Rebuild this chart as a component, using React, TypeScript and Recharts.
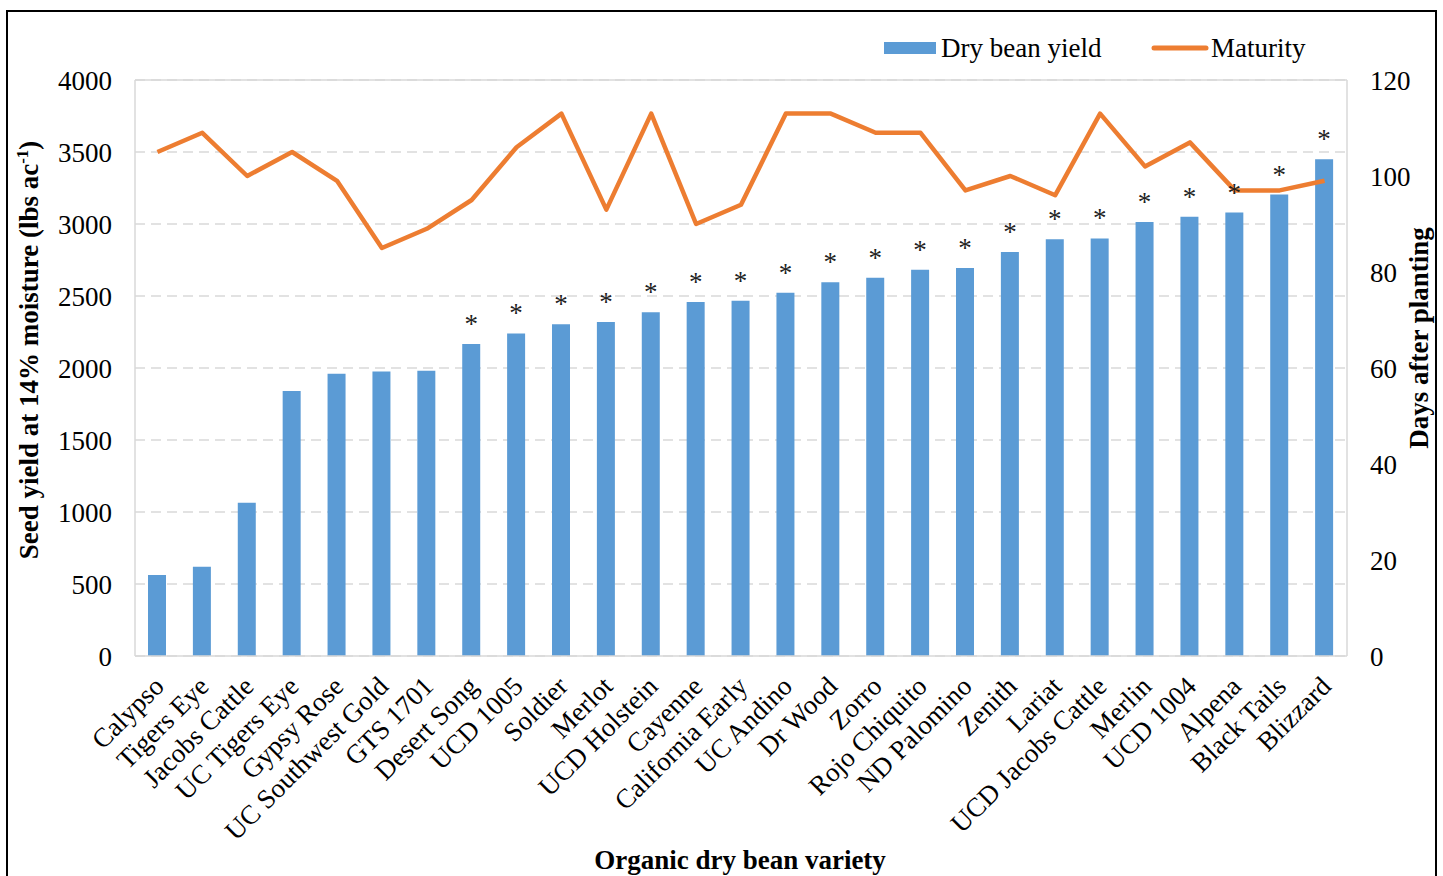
import React from "react";
import {
  ComposedChart,
  Bar,
  Line,
  XAxis,
  YAxis,
  CartesianGrid,
  LabelList,
  ReferenceLine,
} from "recharts";

const varieties = [
  "Calypso", "Tigers Eye", "Jacobs Cattle", "UC Tigers Eye", "Gypsy Rose",
  "UC Southwest Gold", "GTS 1701", "Desert Song", "UCD 1005", "Soldier",
  "Merlot", "UCD Holstein", "Cayenne", "California Early", "UC Andino",
  "Dr Wood", "Zorro", "Rojo Chiquito", "ND Palomino", "Zenith", "Lariat",
  "UCD Jacobs Cattle", "Merlin", "UCD 1004", "Alpena", "Black Tails", "Blizzard",
];

const yieldLbs = [
  562, 620, 1065, 1840, 1960, 1975, 1981, 2167, 2240, 2303, 2319, 2387, 2458,
  2467, 2523, 2595, 2627, 2683, 2694, 2805, 2894, 2900, 3014, 3051, 3079, 3204, 3449,
];

const maturityDays = [
  105, 109, 100, 105, 99, 85, 89, 95, 106, 113, 93, 113, 90, 94, 113, 113, 109,
  109, 97, 100, 96, 113, 102, 107, 97, 97, 99,
];

// significance markers shown above bars
const significant = [
  false, false, false, false, false, false, false, true, true, true, true, true,
  true, true, true, true, true, true, true, true, true, true, true, true, true, true, true,
];

const yieldTicks = [0, 500, 1000, 1500, 2000, 2500, 3000, 3500, 4000];
const dayTicks = [0, 20, 40, 60, 80, 100, 120];

const data = varieties.map((name, i) => ({
  name,
  yield: yieldLbs[i],
  maturity: maturityDays[i],
  sig: significant[i] ? "*" : "",
}));

const FONT = "'Liberation Serif', 'Times New Roman', serif";
const BLUE = "#5B9BD5";
const ORANGE = "#ED7D31";
const GRID = "#D9D9D9";

function CategoryTick({ x, y, payload }: any) {
  return (
    <text
      transform={`translate(${x + 8},${y + 30}) rotate(-45)`}
      textAnchor="end"
      fontFamily={FONT}
      fontSize={27}
      fill="#000"
    >
      {payload.value}
    </text>
  );
}

function StarLabel({ x, y, width, value }: any) {
  if (!value) return null;
  return (
    <text
      x={Number(x) + Number(width) / 2}
      y={Number(y) - 11}
      textAnchor="middle"
      fontFamily={FONT}
      fontSize={27}
      fill="#222"
    >
      {value}
    </text>
  );
}

export default function App() {
  return (
    <div
      style={{
        position: "absolute",
        left: 0,
        top: 0,
        width: 1443,
        height: 876,
        overflow: "hidden",
        background: "#fff",
      }}
    >
      <ComposedChart
        width={1443}
        height={876}
        data={data}
        margin={{ top: 80, right: 0, bottom: 0, left: 0 }}
        barCategoryGap={0}
      >
        <CartesianGrid
          yAxisId="left"
          vertical={false}
          stroke={GRID}
          strokeWidth={1.5}
          strokeDasharray="10 6"
        />
        <XAxis
          dataKey="name"
          interval={0}
          height={220}
          tickSize={0}
          tickLine={false}
          axisLine={{ stroke: GRID, strokeWidth: 1.5 }}
          tick={<CategoryTick />}
        />
        <YAxis
          yAxisId="left"
          width={135}
          domain={[0, 4000]}
          ticks={yieldTicks}
          tickSize={0}
          tickMargin={23}
          tickLine={false}
          axisLine={{ stroke: GRID, strokeWidth: 1.5 }}
          tick={{ fontFamily: FONT, fontSize: 27, fill: "#000" }}
        />
        <YAxis
          yAxisId="right"
          orientation="right"
          width={96}
          domain={[0, 120]}
          ticks={dayTicks}
          tickSize={0}
          tickMargin={23}
          tickLine={false}
          axisLine={{ stroke: GRID, strokeWidth: 1.5 }}
          tick={{ fontFamily: FONT, fontSize: 27, fill: "#000", textAnchor: "start" }}
        />
        <ReferenceLine yAxisId="left" y={4000} stroke={GRID} strokeWidth={1.5} />
        <Bar
          yAxisId="left"
          dataKey="yield"
          fill={BLUE}
          barSize={18}
          isAnimationActive={false}
        >
          <LabelList dataKey="sig" content={<StarLabel />} />
        </Bar>
        <Line
          yAxisId="right"
          type="linear"
          dataKey="maturity"
          stroke={ORANGE}
          strokeWidth={4.5}
          strokeLinejoin="round"
          dot={false}
          activeDot={false}
          isAnimationActive={false}
        />
      </ComposedChart>

      <svg
        width={1443}
        height={876}
        style={{ position: "absolute", left: 0, top: 0, pointerEvents: "none" }}
      >
        <rect x={884} y={42} width={52} height={12} fill={BLUE} />
        <text x={941} y={57} fontFamily={FONT} fontSize={27} fill="#000">
          Dry bean yield
        </text>
        <line
          x1={1154}
          x2={1206}
          y1={48}
          y2={48}
          stroke={ORANGE}
          strokeWidth={5}
          strokeLinecap="round"
        />
        <text x={1211} y={57} fontFamily={FONT} fontSize={27} fill="#000">
          Maturity
        </text>

        <text
          transform="translate(38,350) rotate(-90)"
          textAnchor="middle"
          fontFamily={FONT}
          fontSize={27}
          fontWeight="bold"
          fill="#000"
        >
          Seed yield at 14% moisture (lbs ac
          <tspan fontSize={17} dy={-10}>-1</tspan>
          <tspan dy={10}>)</tspan>
        </text>
        <text
          transform="translate(1428,338) rotate(-90)"
          textAnchor="middle"
          fontFamily={FONT}
          fontSize={27}
          fontWeight="bold"
          fill="#000"
        >
          Days after planting
        </text>
        <text
          x={740}
          y={869}
          textAnchor="middle"
          fontFamily={FONT}
          fontSize={27}
          fontWeight="bold"
          fill="#000"
        >
          Organic dry bean variety
        </text>

        <rect
          x={7}
          y={11}
          width={1429}
          height={900}
          fill="none"
          stroke="#000"
          strokeWidth={2}
        />
      </svg>
    </div>
  );
}
